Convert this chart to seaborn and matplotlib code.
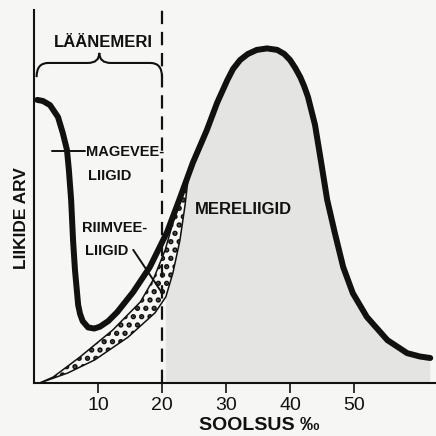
import numpy as np
import pandas as pd
import matplotlib
matplotlib.use("Agg")
import matplotlib.pyplot as plt
from matplotlib.path import Path
from matplotlib.patches import PathPatch
import seaborn as sns

# total number of species (thick curve)
total_sal = [0.5, 1.4, 2.5, 3.75, 4.5, 5.15, 5.45, 5.8, 6.1, 6.4, 6.9, 7.2, 7.6, 8.45,
             9.4, 10.3, 11.6, 13.0, 15.5, 18.1, 20.8, 22.8, 24.8, 27.0, 28.6, 30.2,
             31.1, 32.2, 33.4, 34.8, 36.4, 38.0, 39.1, 40.0, 40.8, 41.6, 42.2, 42.8,
             43.9, 44.8, 45.8, 47.0, 48.3, 49.8, 52.0, 55.2, 58.3, 60.3, 61.9]
total_n = [75.9, 75.6, 74.5, 71.3, 67.0, 62.5, 57.1, 49.1, 38.3, 30.3, 20.9, 18.5,
           16.6, 14.9, 14.6, 15.1, 16.6, 19.0, 24.4, 31.1, 40.5, 49.6, 59.0, 67.8,
           75.1, 81.2, 84.2, 86.6, 88.2, 89.3, 89.7, 89.3, 88.2, 86.6, 84.5, 82.0,
           79.6, 76.7, 69.2, 59.8, 49.1, 40.2, 31.1, 24.1, 17.7, 11.5, 8.0, 7.1, 6.7]

# upper edge of brackish-water band
brackish_sal = [0.9, 3.0, 7.2, 12.3, 16.6, 18.6, 20.5, 21.6, 22.8]
brackish_n = [0.0, 1.6, 7.0, 14.2, 21.7, 27.6, 35.7, 42.4, 49.6]

# marine species (lower edge of band)
marine_sal = [0.9, 5.3, 9.5, 14.7, 18.9, 20.6, 21.7, 22.8, 23.6, 24.1]
marine_n = [0.0, 2.7, 6.2, 12.3, 18.8, 23.1, 29.5, 38.3, 47.7, 55.2]

baltic = (0.4, 20)
xticks = [10, 20, 30, 40, 50]

sns.set_theme(style="ticks")
plt.rcParams["font.family"] = ["Liberation Sans", "DejaVu Sans"]
plt.rcParams["hatch.linewidth"] = 2.6

fig = plt.figure(figsize=(4.36, 4.36), dpi=100)
fig.patch.set_facecolor("#f6f6f4")
ax = fig.add_axes([34 / 436, 53 / 436, 402 / 436, 373 / 436])
ax.set_facecolor("none")

total = pd.DataFrame({"sal": total_sal, "n": total_n})
brack = pd.DataFrame({"sal": brackish_sal, "n": brackish_n})
marine = pd.DataFrame({"sal": marine_sal, "n": marine_n})

# soft grey wash under the marine species curve, right of the Baltic part
edge = marine[marine["sal"] >= 20.6]
sea = total[total["sal"] > marine["sal"].iloc[-1]]
wash_x = [edge["sal"].iloc[0]] + list(edge["sal"]) + list(sea["sal"]) + [sea["sal"].iloc[-1]]
wash_y = [0] + list(edge["n"]) + list(sea["n"]) + [0]
ax.fill(wash_x, wash_y, color="#8c8c8c", alpha=0.16, lw=0)

# stippled brackish band
band_x = list(brack["sal"]) + list(marine["sal"][::-1])
band_y = list(brack["n"]) + list(marine["n"][::-1])
ax.fill(band_x, band_y, facecolor="#f6f6f4", edgecolor="#111111", hatch="..", lw=0)

sns.lineplot(data=brack, x="sal", y="n", sort=False, estimator=None,
             color="#111111", lw=1.1, ax=ax)
sns.lineplot(data=marine, x="sal", y="n", sort=False, estimator=None,
             color="#111111", lw=1.1, ax=ax)
sns.lineplot(data=total, x="sal", y="n", sort=False, estimator=None,
             color="#111111", lw=4.3, ax=ax,
             solid_joinstyle="round", solid_capstyle="round")

# Baltic boundary
ax.axvline(baltic[1], ymin=0, ymax=1, color="#111111", lw=1.6, ls=(0, (6, 3.5)))

ax.set_xlim(0, 62.8)
ax.set_ylim(0, 100)
sns.despine(ax=ax)
for s in ["left", "bottom"]:
    ax.spines[s].set_linewidth(1.5)
    ax.spines[s].set_color("#111111")
ax.set_yticks([])
ax.set_xticks(xticks)
ax.set_xticklabels([str(t) for t in xticks], fontsize=14, color="#111111")
ax.tick_params(axis="x", direction="out", length=7, width=1.2, pad=3,
               color="#111111")
ax.set_xlabel("")
ax.set_ylabel("")

# brace over the Baltic salinity range
x0, x1 = baltic
xc = (x0 + x1) / 2
yb, ym, yt = 82.0, 85.8, 88.5
verts = [(x0, yb), (x0, ym), (x0 + 1.8, ym), (xc - 1.8, ym), (xc, ym), (xc, yt),
         (xc, ym), (xc + 1.8, ym), (x1 - 1.8, ym), (x1, ym), (x1, yb)]
codes = [Path.MOVETO, Path.CURVE3, Path.CURVE3, Path.LINETO, Path.CURVE3, Path.CURVE3,
         Path.CURVE3, Path.CURVE3, Path.LINETO, Path.CURVE3, Path.CURVE3]
ax.add_patch(PathPatch(Path(verts, codes), fill=False, lw=1.5, color="#111111",
                       clip_on=False))

txt = dict(color="#111111", fontweight="bold", clip_on=False)
ax.text(10.8, 91.4, "LÄÄNEMERI", ha="center", va="center", fontsize=12, **txt)
ax.text(8.1, 61.9, "MAGEVEE-", ha="left", va="center", fontsize=10.5, **txt)
ax.text(8.4, 55.5, "LIIGID", ha="left", va="center", fontsize=10.5, **txt)
ax.text(7.5, 41.6, "RIIMVEE-", ha="left", va="center", fontsize=10.5, **txt)
ax.text(8.0, 35.4, "LIIGID", ha="left", va="center", fontsize=10.5, **txt)
ax.text(25.2, 46.4, "MERELIIGID", ha="left", va="center", fontsize=12, **txt)
ax.text(-2.0, 44.2, "LIIKIDE ARV", ha="center", va="center", rotation=90,
        fontsize=12.5, **txt)
ax.text(35.2, -11.3, "SOOLSUS ‰", ha="center", va="center", fontsize=14, **txt)

# pointers
ax.plot([2.8, 8.0], [62.2, 62.2], color="#111111", lw=1.4)
ax.plot([15.5, 19.7], [35.7, 24.9], color="#111111", lw=1.4)

fig.savefig("out.png", dpi=100, facecolor=fig.get_facecolor())
